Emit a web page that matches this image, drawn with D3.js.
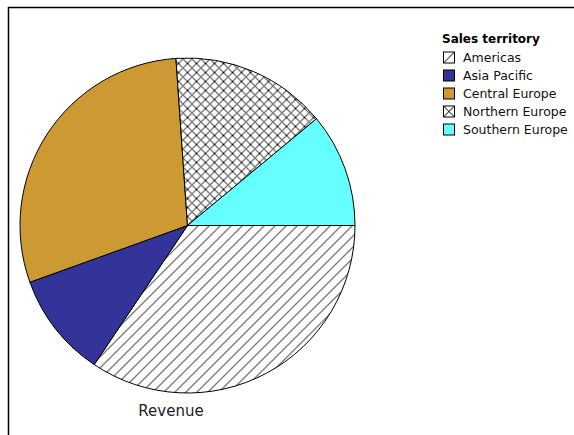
<!DOCTYPE html>
<html>
<head>
<meta charset="utf-8">
<script src="https://cdn.jsdelivr.net/npm/d3@7"></script>
<style>
  body { margin: 0; background: #fff; }
  svg { display: block; }
</style>
</head>
<body>
<div id="chart"></div>
<script>
const territories = ["Americas", "Asia Pacific", "Central Europe", "Northern Europe", "Southern Europe"];
const revenue = [34.4, 10.1, 29.4, 15.1, 11.0];
const fills = ["hatch", "#333399", "#cc9933", "cross", "#66ffff"];
const legendTitle = "Sales territory";
const measureLabel = "Revenue";

const width = 574, height = 435;
const cx = 187.5, cy = 225.5, radius = 167.5;

let svg = d3.select("#chart").append("svg")
    .attr("width", width)
    .attr("height", height);

let defs = svg.append("defs");

// tile path for 45 degree lines on an s x s tile
function slashPath(s) {
    return "M-2,2 L2,-2 M0," + s + " L" + s + ",0 M" + (s - 2) + "," + (s + 2) + " L" + (s + 2) + "," + (s - 2);
}
function backslashPath(s) {
    return "M-2," + (s - 2) + " L2," + (s + 2) + " M0,0 L" + s + "," + s + " M" + (s - 2) + ",-2 L" + (s + 2) + ",2";
}

function makePattern(id, s, d) {
    let p = defs.append("pattern")
        .attr("id", id)
        .attr("patternUnits", "userSpaceOnUse")
        .attr("width", s)
        .attr("height", s);
    p.append("rect").attr("width", s).attr("height", s).attr("fill", "#fff");
    p.append("path")
        .attr("d", d)
        .attr("stroke", "#000")
        .attr("stroke-width", 1)
        .attr("shape-rendering", "crispEdges");
}

// diagonal hatch for Americas, cross hatch for Northern Europe
makePattern("hatch", 11, slashPath(11));
makePattern("cross", 9, slashPath(9) + " " + backslashPath(9));

function fillFor(i) {
    let f = fills[i];
    return (f == "hatch" || f == "cross") ? "url(#" + f + ")" : f;
}

// outer frame
svg.append("rect")
    .attr("x", 8.5)
    .attr("y", 7.5)
    .attr("width", width)
    .attr("height", height)
    .attr("fill", "none")
    .attr("stroke", "#000")
    .attr("stroke-width", 1.5);

let pie = d3.pie()
    .sort(null)
    .startAngle(Math.PI / 2)
    .endAngle(Math.PI / 2 + 2 * Math.PI);

let arc = d3.arc()
    .innerRadius(0)
    .outerRadius(radius);

let g = svg.append("g")
    .attr("transform", "translate(" + cx + "," + cy + ")");

g.selectAll("path.slice")
    .data(pie(revenue))
    .enter().append("path")
    .attr("class", "slice")
    .attr("d", arc)
    .attr("fill", (d, i) => fillFor(i))
    .attr("stroke", "#000")
    .attr("stroke-width", 1)
    .attr("stroke-linejoin", "round");

svg.append("text")
    .attr("x", 171)
    .attr("y", 416)
    .attr("text-anchor", "middle")
    .style("font-family", "DejaVu Sans, sans-serif")
    .style("font-size", "15px")
    .attr("fill", "#222")
    .text(measureLabel);

// legend
let legend = svg.append("g")
    .attr("transform", "translate(442,0)");

legend.append("text")
    .attr("x", 0)
    .attr("y", 43)
    .style("font-family", "DejaVu Sans, sans-serif")
    .style("font-size", "12px")
    .style("font-weight", "bold")
    .text(legendTitle);

let rowY = d3.scalePoint()
    .domain(territories)
    .range([57.5, 129.5]);

let rows = legend.selectAll("g.row")
    .data(territories)
    .enter().append("g")
    .attr("class", "row")
    .attr("transform", d => "translate(0," + rowY(d) + ")");

rows.append("rect")
    .attr("x", 1.5)
    .attr("y", -5.5)
    .attr("width", 11)
    .attr("height", 11)
    .attr("fill", (d, i) => (fills[i] == "hatch" || fills[i] == "cross") ? "#fff" : fills[i])
    .attr("stroke", "#000")
    .attr("stroke-width", 1);

// single strokes inside the patterned swatches
rows.filter((d, i) => fills[i] == "hatch" || fills[i] == "cross")
    .append("path")
    .attr("d", (d) => {
        let i = territories.indexOf(d);
        let p = "M1.5,5.5 L12.5,-5.5";
        if (fills[i] == "cross") p += " M1.5,-5.5 L12.5,5.5";
        return p;
    })
    .attr("stroke", "#000")
    .attr("stroke-width", 1);

rows.append("text")
    .attr("x", 21)
    .attr("y", 4.5)
    .style("font-family", "DejaVu Sans, sans-serif")
    .style("font-size", "12.5px")
    .attr("fill", "#111")
    .text(d => d);
</script>
</body>
</html>
